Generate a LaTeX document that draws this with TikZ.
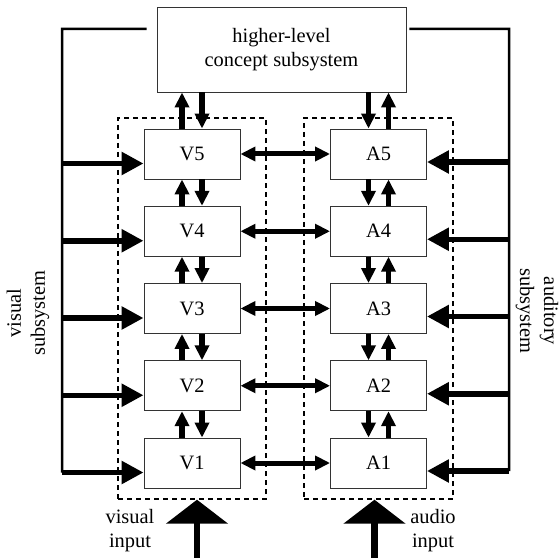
\documentclass[tikz,border=0pt]{standalone}
\usepackage{fontspec}
\setmainfont{Liberation Serif}
\usetikzlibrary{arrows.meta, calc, positioning}

\begin{document}
\begin{tikzpicture}[x=1bp, y=-1bp, font=\fontsize{20.5}{24}\selectfont,
    module/.style={draw=black!80, line width=0.9bp, minimum width=96bp, minimum height=50bp, inner sep=0pt},
    group/.style={draw, line width=1.4bp, dash pattern=on 5bp off 4bp, minimum height=381bp, inner sep=0pt},
    fb/.style={line width=2.5bp},
    fbarrow/.style={line width=5.5bp, -{Triangle[length=22bp,width=22bp]}},
    link/.style={line width=5bp, {Triangle[length=15bp,width=14bp]}-{Triangle[length=15bp,width=14bp]}},
    vlink/.style={line width=5.5bp, -{Triangle[length=15bp,width=14bp]}},
    inarrow/.style={line width=6.5bp, -{Triangle[length=24bp,width=61bp]}}]
    \useasboundingbox (0,0) rectangle (560,558);

    % dashed subsystem frames
    \node[group, minimum width=148bp] (visgroup) at (192,308.5) {};
    \node[group, minimum width=149bp] (audgroup) at (378.5,308.5) {};

    \node[module, minimum width=249bp, minimum height=85bp, align=center] (concept) at (281.5,49.5) {higher-level\\concept subsystem};

    \foreach \i in {1,...,5} {
        \pgfmathsetmacro\yy{463-77.25*(\i-1)}
        \node[module] (V\i) at (192,\yy) {V\i};
        \node[module] (A\i) at (378.5,\yy) {A\i};
    }

    % feedback lines
    \coordinate (vcorner) at (62,29);
    \coordinate (acorner) at (509,29);
    \draw[fb] ([xshift=-10bp,yshift=20.5bp]concept.west) -- (vcorner) -- ($(vcorner |- V1.west)+(0,9.5)$);
    \draw[fb] ([xshift=3bp,yshift=20.5bp]concept.east) -- (acorner) -- ($(acorner |- A1.east)+(0,8)$);
    \foreach \i in {1,...,5} {
        \draw[fbarrow] ($(vcorner |- V\i.west)+(0,9.5)$) -- ($(V\i.west)+(0,9.5)$);
        \draw[fbarrow] ($(acorner |- A\i.east)+(0,8)$) -- ($(A\i.east)+(0,8)$);
        \draw[link] (V\i) -- (A\i);
    }

    % links between levels
    \foreach \i/\j in {1/2, 2/3, 3/4, 4/5} {
        \draw[vlink] ($(V\i.north)+(-10,0)$) -- ($(V\j.south)+(-10,0)$);
        \draw[vlink] ($(V\j.south)+(10,0)$) -- ($(V\i.north)+(10,0)$);
        \draw[vlink] ($(A\j.south)+(-10,0)$) -- ($(A\i.north)+(-10,0)$);
        \draw[vlink] ($(A\i.north)+(10,0)$) -- ($(A\j.south)+(10,0)$);
    }
    \draw[vlink] ($(V5.north)+(-10,0)$) -- ($(V5.north |- concept.south)+(-10,0)$);
    \draw[vlink] ($(V5.north |- concept.south)+(10,0)$) -- ($(V5.north)+(10,0)$);
    \draw[vlink] ($(A5.north |- concept.south)+(-10,0)$) -- ($(A5.north)+(-10,0)$);
    \draw[vlink] ($(A5.north)+(10,0)$) -- ($(A5.north |- concept.south)+(10,0)$);

    % inputs
    \coordinate (vin) at (197,558);
    \coordinate (ain) at (374.5,558);
    \draw[inarrow] (vin) -- (vin |- visgroup.south);
    \draw[inarrow] (ain) -- (ain |- audgroup.south);

    \node[align=center] (vislabel) at (130,531) {visual\\input};
    \node[align=center] (audlabel) at (433,531) {audio\\input};
    \node[rotate=90, align=center] (vissub) at (28,313) {visual\\subsystem};
    \node[rotate=-90, align=center] (audsub) at (537,311) {auditory\\subsystem};
\end{tikzpicture}
\end{document}
